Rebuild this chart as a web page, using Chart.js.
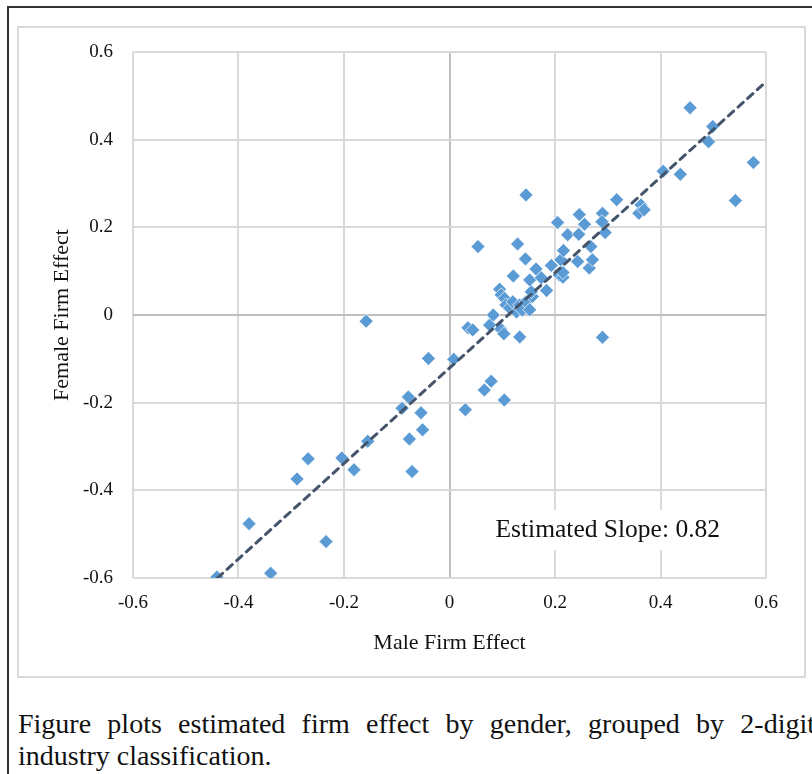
<!DOCTYPE html>
<html>
<head>
<meta charset="utf-8">
<script src="https://cdn.jsdelivr.net/npm/chart.js@4.4.0/dist/chart.umd.min.js"></script>
<style>
html, body { margin: 0; padding: 0; background: #fff; }
body { width: 812px; height: 774px; position: relative; overflow: hidden; }
#frame { position: absolute; left: 7px; top: 6px; width: 900px; height: 900px; border-left: 2px solid #333; border-top: 2px solid #333; box-sizing: border-box; }
#box { position: absolute; left: 17px; top: 26px; width: 789px; height: 652px; border: 2px solid #d9d9d9; box-sizing: border-box; }
#caption { position: absolute; left: 18px; top: 708px; width: 797px; font-family: 'Liberation Serif', serif; font-size: 28px; line-height: 32px; text-align: justify; color: #111; }
</style>
</head>
<body>
<div id="frame"></div>
<div id="box"><canvas id="chart" width="785" height="648"></canvas></div>
<div id="caption">Figure plots estimated firm effect by gender, grouped by 2-digit industry classification.</div>
<script>
// firm effects, one entry per 2-digit industry
const maleEffect = [
    -0.441, -0.339, -0.234, -0.380, -0.289, -0.268, -0.204, -0.181, -0.155, -0.071,
    -0.076, -0.051, -0.054, -0.090, -0.078, -0.040, 0.008, -0.158, 0.030, 0.066,
    0.079, 0.104, 0.035, 0.044, 0.076, 0.083, 0.097, 0.103, 0.133, 0.290,
    0.095, 0.098, 0.104, 0.107, 0.114, 0.120, 0.127, 0.133, 0.138, 0.145,
    0.152, 0.157, 0.155, 0.121, 0.152, 0.174, 0.184, 0.144, 0.164, 0.193,
    0.208, 0.215, 0.215, 0.211, 0.216, 0.224, 0.245, 0.243, 0.265, 0.271,
    0.268, 0.256, 0.246, 0.205, 0.290, 0.289, 0.295, 0.317, 0.363, 0.359,
    0.369, 0.054, 0.129, 0.145, 0.405, 0.4375, 0.456, 0.499, 0.491, 0.576,
    0.542
];
const femaleEffect = [
    -0.598, -0.589, -0.517, -0.476, -0.374, -0.328, -0.326, -0.353, -0.288, -0.357,
    -0.283, -0.262, -0.223, -0.213, -0.187, -0.099, -0.101, -0.014, -0.216, -0.171,
    -0.151, -0.194, -0.029, -0.034, -0.023, 0.000, -0.032, -0.043, -0.050, -0.051,
    0.059, 0.046, 0.038, 0.023, 0.016, 0.030, 0.007, 0.023, 0.011, 0.030,
    0.012, 0.042, 0.053, 0.089, 0.080, 0.085, 0.056, 0.128, 0.105, 0.113,
    0.091, 0.086, 0.097, 0.126, 0.147, 0.183, 0.184, 0.122, 0.107, 0.126,
    0.156, 0.207, 0.229, 0.211, 0.232, 0.213, 0.188, 0.263, 0.251, 0.232,
    0.240, 0.156, 0.162, 0.274, 0.328, 0.321, 0.473, 0.430, 0.395, 0.348,
    0.261
];

// fitted line end points
const trendX = [-0.44, 0.6];
const trendY = [-0.6, 0.532];

const tickLabels = ['-0.6', '-0.4', '-0.2', '0', '0.2', '0.4', '0.6'];
const slopeText = 'Estimated Slope: 0.82';

const points = maleEffect.map((x, i) => ({ x: x, y: femaleEffect[i] }));
const trend = trendX.map((x, i) => ({ x: x, y: trendY[i] }));

const serif = "'Liberation Serif', serif";

const slopeLabel = {
    id: 'slopeLabel',
    afterDatasetsDraw(chart) {
        const ctx = chart.ctx;
        const cx = chart.scales.x.getPixelForValue(0.3);
        const cy = chart.scales.y.getPixelForValue(-0.491);
        ctx.save();
        ctx.fillStyle = '#fff';
        ctx.fillRect(cx - 124, cy - 20, 248, 40);
        ctx.fillStyle = '#111';
        ctx.font = '25.5px ' + serif;
        ctx.textAlign = 'center';
        ctx.textBaseline = 'middle';
        ctx.fillText(slopeText, cx, cy);
        ctx.restore();
    }
};

function gridColor(c) {
    return c.tick && c.tick.value === 0 ? '#bfbfbf' : '#d9d9d9';
}

new Chart(document.getElementById('chart'), {
    type: 'scatter',
    data: {
        datasets: [{
            data: points,
            pointStyle: 'rectRot',
            pointRadius: 7,
            pointHoverRadius: 7,
            backgroundColor: '#5b9bd5',
            borderColor: 'rgba(255,255,255,0.7)',
            borderWidth: 1,
            order: 2
        }, {
            type: 'line',
            data: trend,
            borderColor: '#44546a',
            borderWidth: 3,
            borderDash: [7, 6],
            borderCapStyle: 'round',
            pointRadius: 0,
            fill: false,
            order: 1
        }]
    },
    options: {
        responsive: false,
        animation: false,
        layout: { padding: { top: 24, right: 38, left: 0, bottom: 0 } },
        plugins: {
            legend: { display: false },
            tooltip: { enabled: false }
        },
        scales: {
            x: {
                type: 'linear',
                min: -0.6,
                max: 0.6,
                afterFit: s => { s.height = 98; },
                ticks: {
                    stepSize: 0.2,
                    padding: 14,
                    color: '#111',
                    font: { family: serif, size: 19 },
                    callback: (v, i) => tickLabels[i]
                },
                grid: { color: gridColor, lineWidth: 2, drawTicks: false },
                border: { display: false },
                title: {
                    display: true,
                    text: 'Male Firm Effect',
                    color: '#111',
                    font: { family: serif, size: 22 },
                    padding: { top: 0, bottom: 20 }
                }
            },
            y: {
                min: -0.6,
                max: 0.6,
                afterFit: s => { s.width = 114; s.paddingTop = 0; s.paddingBottom = 0; },
                ticks: {
                    stepSize: 0.2,
                    padding: 20,
                    color: '#111',
                    font: { family: serif, size: 19 },
                    callback: (v, i) => tickLabels[i]
                },
                grid: { color: gridColor, lineWidth: 2, drawTicks: false },
                border: { display: false },
                title: {
                    display: true,
                    text: 'Female Firm Effect',
                    color: '#111',
                    font: { family: serif, size: 22 },
                    padding: { top: 30, bottom: 0 }
                }
            }
        }
    },
    plugins: [slopeLabel]
});
</script>
</body>
</html>
